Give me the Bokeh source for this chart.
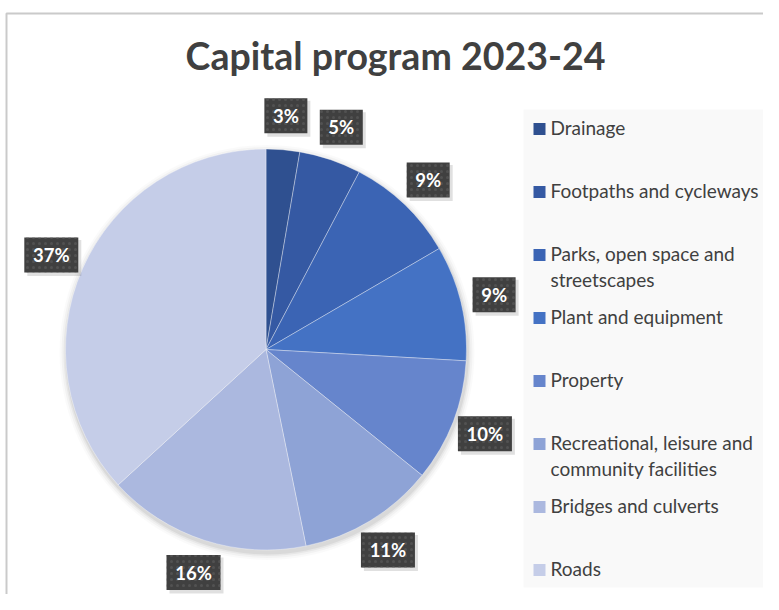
import math
from bokeh.plotting import figure
from bokeh.models import Range1d, ColumnDataSource
from bokeh.core.properties import value
from bokeh.embed import file_html
from bokeh.resources import INLINE

# ---------------- data ----------------
title_text = "Capital program 2023-24"
categories = [
    "Drainage",
    "Footpaths and cycleways",
    "Parks, open space and\nstreetscapes",
    "Plant and equipment",
    "Property",
    "Recreational, leisure and\ncommunity facilities",
    "Bridges and culverts",
    "Roads",
]
shares = [2.7, 5.0, 8.9, 9.3, 9.9, 11.0, 16.4, 36.8]
pct_labels = ["3%", "5%", "9%", "9%", "10%", "11%", "16%", "37%"]
colors = ["#2F5090", "#3559A3", "#3B64B4", "#4472C4",
          "#6685CC", "#8EA3D6", "#ABB8DF", "#C5CDE8"]

# ---------------- layout ----------------
W, H = 763, 594
FONT = "Lato"
TXT = "#404040"

p = figure(width=W, height=H,
           x_range=Range1d(0, W), y_range=Range1d(-H, 0),
           output_backend="svg", toolbar_location=None,
           x_axis_type=None, y_axis_type=None, min_border=0)
p.grid.visible = False
p.outline_line_color = None
p.background_fill_color = "white"
p.border_fill_color = "white"

# chart border
p.line(x=[6, 6, W], y=[-H, -13, -13],
       line_color="#CACACA", line_width=2)

# title
p.text(x=[395], y=[-55], text=[title_text], text_color=TXT,
       text_font=value(FONT), text_font_style="bold", text_font_size="37.5px",
       text_align="center", text_baseline="middle")

# pie geometry
CX, CY, R = 265.5, -349.0, 200.5
total = sum(shares)
starts, ends, mids = [], [], []
cum = 0.0
for s in shares:
    a0 = cum / total
    cum += s
    a1 = cum / total
    starts.append(math.pi / 2 - 2 * math.pi * a0)
    ends.append(math.pi / 2 - 2 * math.pi * a1)
    mids.append(math.pi / 2 - 2 * math.pi * (a0 + a1) / 2)

# soft shadow around pie
for dr, al in [(7, 0.02), (5, 0.03), (3, 0.045), (1.5, 0.06)]:
    p.circle(x=[CX + 1], y=[CY - 3], radius=R + dr, fill_color="black",
             fill_alpha=al, line_color=None)

src = ColumnDataSource(dict(start=starts, end=ends, color=colors))
p.wedge(x=CX, y=CY, radius=R, start_angle="start", end_angle="end",
        direction="clock", fill_color="color", line_color="white",
        line_width=0.6, line_alpha=0.6, source=src)

# data labels
LR = 1.17 * R
lx = [CX + LR * math.cos(m) for m in mids]
ly = [CY + LR * math.sin(m) for m in mids]
bw = [21 + 11 * len(t) for t in pct_labels]
lab = ColumnDataSource(dict(x=lx, y=ly, w=bw, t=pct_labels,
                            sx=[v + 3 for v in lx], sy=[v - 3 for v in ly]))
p.rect(x="sx", y="sy", width="w", height=36, fill_color="black",
       fill_alpha=0.12, line_color=None, source=lab)
p.rect(x="x", y="y", width="w", height=35, fill_color="#404040",
       line_color=None, hatch_pattern=".", hatch_color="#5E5E5E",
       hatch_scale=6, hatch_alpha=0.6, source=lab)
p.text(x="x", y="y", text="t", text_color="white", text_font=value(FONT),
       text_font_style="bold", text_font_size="18.5px", text_align="center",
       text_baseline="middle", source=lab)

# legend
p.quad(left=[523], right=[W], top=[-109], bottom=[-587],
       fill_color="#F9F9F9", line_color=None)
ROW0, ROWSTEP, LINESTEP = 128.5, 63.0, 25.5
mx, my, tx, ty, tt = [], [], [], [], []
for i, name in enumerate(categories):
    yc = ROW0 + i * ROWSTEP
    mx.append(539)
    my.append(-yc)
    for j, line in enumerate(name.split("\n")):
        tx.append(550)
        ty.append(-(yc - 1.5 + j * LINESTEP))
        tt.append(line)
p.rect(x=mx, y=my, width=12, height=12, fill_color=colors, line_color=None)
p.text(x=tx, y=ty, text=tt, text_color=TXT, text_font=value(FONT),
       text_font_size="19px", text_align="left", text_baseline="middle")

open("out.html", "w").write(file_html(p, INLINE))
